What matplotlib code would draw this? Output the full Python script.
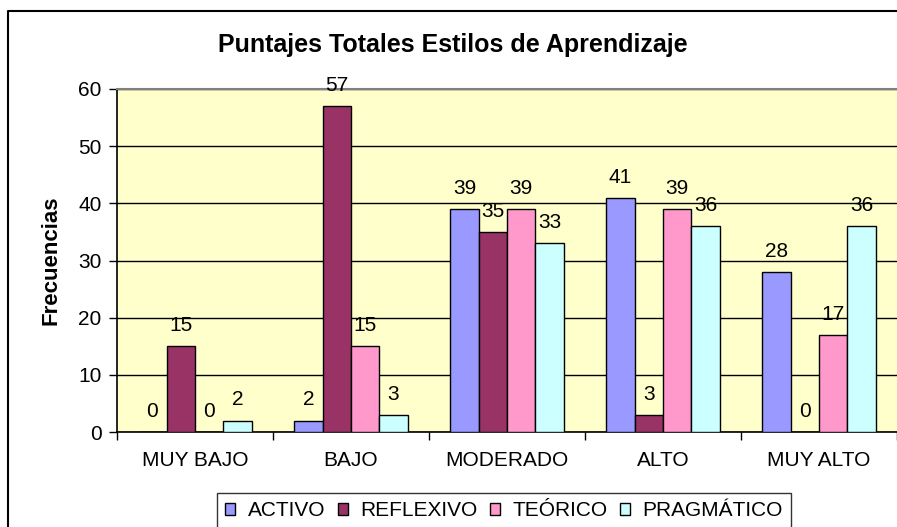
import matplotlib.pyplot as plt
import numpy as np
from matplotlib.lines import Line2D

plt.rcParams["font.family"] = ["Liberation Sans", "DejaVu Sans"]

categories = ["MUY BAJO", "BAJO", "MODERADO", "ALTO", "MUY ALTO"]
series = ["ACTIVO", "REFLEXIVO", "TEÓRICO", "PRAGMÁTICO"]
activo = [0, 2, 39, 41, 28]
reflexivo = [15, 57, 35, 3, 0]
teorico = [0, 15, 39, 39, 17]
pragmatico = [2, 3, 33, 36, 36]
values = [activo, reflexivo, teorico, pragmatico]
colors = ["#9999FF", "#993366", "#FF99CC", "#CCFFFF"]

fig = plt.figure(figsize=(8.97, 5.27), dpi=100)
ax = fig.add_axes([117 / 897, 95 / 527, 1 - 117 / 897, 343 / 527])

# outer chart frame: only left and top edges are inside the picture
fx, fy = 8 / 897, 1 - 11 / 527
fig.add_artist(Line2D([fx, fx, 1.0], [0, fy, fy], transform=fig.transFigure,
                      color="black", linewidth=1.5, zorder=0))

x = np.arange(len(categories))
width = 1 / 5.5
for i, (name, vals, col) in enumerate(zip(series, values, colors)):
    pos = x + (i - 1.5) * width
    ax.bar(pos, vals, width, color=col, edgecolor="black", linewidth=1,
           label=name, zorder=3)
    for px, v in zip(pos, vals):
        ax.annotate(str(v), (px, v), xytext=(0, 8), textcoords="offset points",
                    ha="center", va="bottom", fontsize=15)

ax.set_facecolor("#FFFFCC")
ax.set_xlim(-0.5, len(categories) - 0.5)
ax.set_ylim(0, 60)
ax.set_yticks(range(0, 61, 10))
ax.yaxis.grid(True, color="black", linewidth=1)
ax.set_axisbelow(True)

ax.set_xticks(x)
ax.set_xticklabels(categories, fontsize=15)
ax.tick_params(axis="x", length=0, pad=14)
ax.set_xticks(np.arange(-0.5, len(categories)), minor=True)
ax.tick_params(axis="x", which="minor", length=6, width=1, direction="out")
ax.tick_params(axis="y", length=6, width=1, labelsize=15, pad=5)

for s in ["left", "bottom"]:
    ax.spines[s].set_color("black")
    ax.spines[s].set_linewidth(1.2)
ax.spines["top"].set_color("#808080")
ax.spines["top"].set_linewidth(1.5)
ax.spines["right"].set_visible(False)

ax.set_ylabel("Frecuencias", fontsize=16, fontweight="bold", labelpad=12)
fig.text(453 / 897, 1 - 45 / 527, "Puntajes Totales Estilos de Aprendizaje",
         ha="center", va="center", fontsize=18, fontweight="bold")

leg = ax.legend(loc="upper left", bbox_to_anchor=(217 / 897, 34 / 527),
                bbox_transform=fig.transFigure, ncol=4, fontsize=15,
                frameon=True, fancybox=False, edgecolor="black",
                handlelength=0.48, handleheight=0.48, handletextpad=0.6,
                columnspacing=0.6, borderaxespad=0, borderpad=0.4)
leg.get_frame().set_linewidth(1)

fig.savefig("out.png", dpi=100)
